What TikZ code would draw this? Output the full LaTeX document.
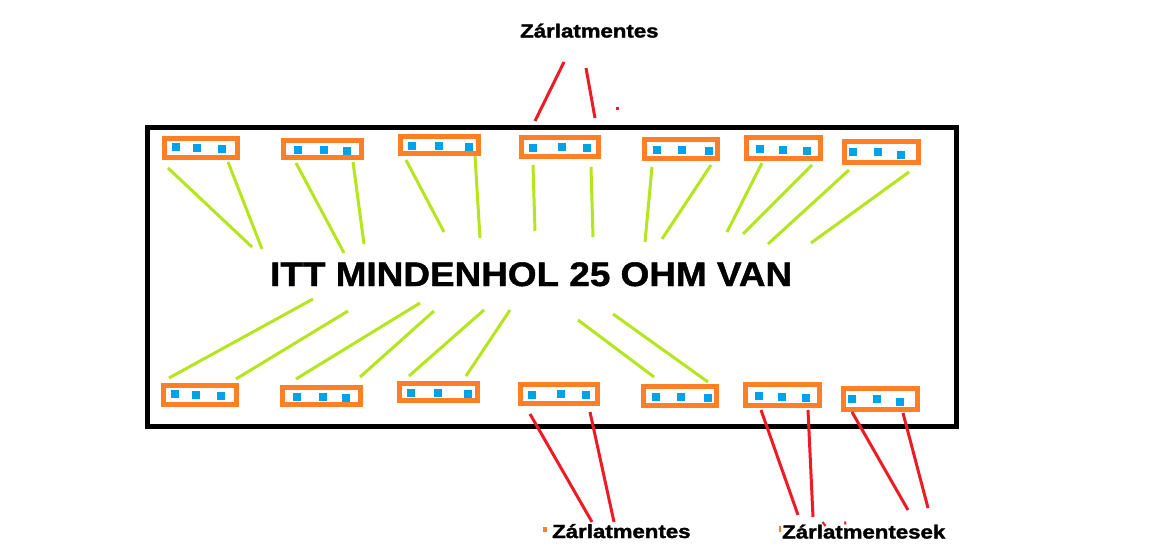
\documentclass[tikz,border=0pt]{standalone}
\usepackage{fontspec}
\setmainfont{Liberation Sans}
\newfontfamily\heavyfont[FakeBold=1.2]{Liberation Sans Bold}
\newfontfamily\heavierfont[FakeBold=1.6]{Liberation Sans Bold}
\definecolor{porange}{RGB}{255,127,39}
\definecolor{pblue}{RGB}{0,162,232}
\definecolor{pgreen}{RGB}{181,230,29}
\definecolor{pred}{RGB}{237,28,36}
\tikzset{
  plug/.style={draw=porange, line width=5pt, inner sep=0pt, fill=white},
  pin/.style={fill=pblue},
  gline/.style={draw=pgreen, line width=3pt},
  rline/.style={draw=pred, line width=3pt},
  frame/.style={draw=black, line width=5pt},
  lbl/.style={inner sep=0pt, anchor=base west, font=\heavierfont\fontsize{19pt}{22pt}\selectfont},
  big/.style={inner sep=0pt, anchor=base west, font=\heavyfont\fontsize{34pt}{40pt}\selectfont}
}
\begin{document}
\begin{tikzpicture}[x=1pt,y=-1pt]
\useasboundingbox (0,0) rectangle (1152,549);
\fill[white] (0,0) rectangle (1152,549);
% frame
\draw[frame] (147.5,127) rectangle (956.5,426.5);
% plugs top
\node[plug, minimum width=73pt, minimum height=19pt] (T1) at (201,148) {};
\node[plug, minimum width=78pt, minimum height=17pt] (T2) at (322.5,149) {};
\node[plug, minimum width=78pt, minimum height=17pt] (T3) at (439.5,145) {};
\node[plug, minimum width=77pt, minimum height=19pt] (T4) at (560,147) {};
\node[plug, minimum width=73pt, minimum height=19pt] (T5) at (681,149) {};
\node[plug, minimum width=74pt, minimum height=21pt] (T6) at (783.5,148) {};
\node[plug, minimum width=74pt, minimum height=21pt] (T7) at (881.5,152) {};
% plugs bottom
\node[plug, minimum width=73pt, minimum height=19pt] (B1) at (200,395) {};
\node[plug, minimum width=78pt, minimum height=17pt] (B2) at (321.5,396) {};
\node[plug, minimum width=78pt, minimum height=17pt] (B3) at (438.5,392) {};
\node[plug, minimum width=77pt, minimum height=19pt] (B4) at (559,394) {};
\node[plug, minimum width=73pt, minimum height=19pt] (B5) at (680,396) {};
\node[plug, minimum width=74pt, minimum height=21pt] (B6) at (782.5,395) {};
\node[plug, minimum width=74pt, minimum height=21pt] (B7) at (880.5,399) {};
% pins
\foreach \x/\y in {172/143,193/144,218/145, 294/146,320/146,343/147, 408/142,435/142,465/143,
  529/144,558/143,583/144, 653/146,678/146,705/147, 756/145,779/146,803/147, 849/148,874/148,897/151,
  171/390,192/391,217/392, 293/393,319/393,342/394, 407/389,434/389,464/390,
  528/391,557/390,582/391, 652/393,677/393,704/394, 755/392,778/393,802/394, 848/395,873/395,896/398}
  \fill[pin] (\x,\y) rectangle ++(8,8);
% green lines top
\draw[gline] (168,168) -- (252,247);
\draw[gline] (228,162) -- (262,249);
\draw[gline] (296,163) -- (344,253);
\draw[gline] (353,162) -- (364,244);
\draw[gline] (406,160) -- (444,232);
\draw[gline] (475,156) -- (480,238);
\draw[gline] (533,165) -- (535,231);
\draw[gline] (591,167) -- (593,237);
\draw[gline] (652,167) -- (645,242);
\draw[gline] (711,165) -- (662,239);
\draw[gline] (762,163) -- (727,232);
\draw[gline] (812,165) -- (743,234);
\draw[gline] (849,170) -- (768,244);
\draw[gline] (909,172) -- (811,243);
% green lines bottom
\draw[gline] (169,378) -- (313,299);
\draw[gline] (236,379) -- (348,311);
\draw[gline] (296,379) -- (420,303);
\draw[gline] (360,377) -- (434,311);
\draw[gline] (409,376) -- (484,310);
\draw[gline] (466,376) -- (510,310);
\draw[gline] (578,320) -- (654,377);
\draw[gline] (613,314) -- (708,382);
% red lines
\draw[rline] (535,121) -- (564,62);
\draw[rline] (586,68) -- (595,118);
\fill[pred] (616,107) rectangle ++(3,3);
\draw[rline] (530,414) -- (592,522);
\draw[rline] (590,412) -- (614,522);
\draw[rline] (761,410) -- (798,515);
\draw[rline] (808,410) -- (813,517);
\draw[rline] (852,412) -- (908,510);
\draw[rline] (903,413) -- (928,508);
\draw[pred, line width=2pt] (822.5,522) -- (825.5,526);
\draw[pred, line width=2pt] (845,521.5) -- (845.5,524.5);
% small orange marks
\fill[porange] (543,527) rectangle (547,532);
\fill[porange] (779,526) rectangle (781,532);
% texts
\node[big] (main) at (270,286) {\scalebox{1.085}[1]{ITT MINDENHOL 25 OHM VAN}};
\node[lbl] (top) at (520,37.5) {\scalebox{1.17}[1]{Zárlatmentes}};
\node[lbl] (bot1) at (552,538) {\scalebox{1.17}[1]{Zárlatmentes}};
\node[lbl] (bot2) at (782,538.5) {\scalebox{1.17}[1]{Zárlatmentesek}};
\end{tikzpicture}
\end{document}
